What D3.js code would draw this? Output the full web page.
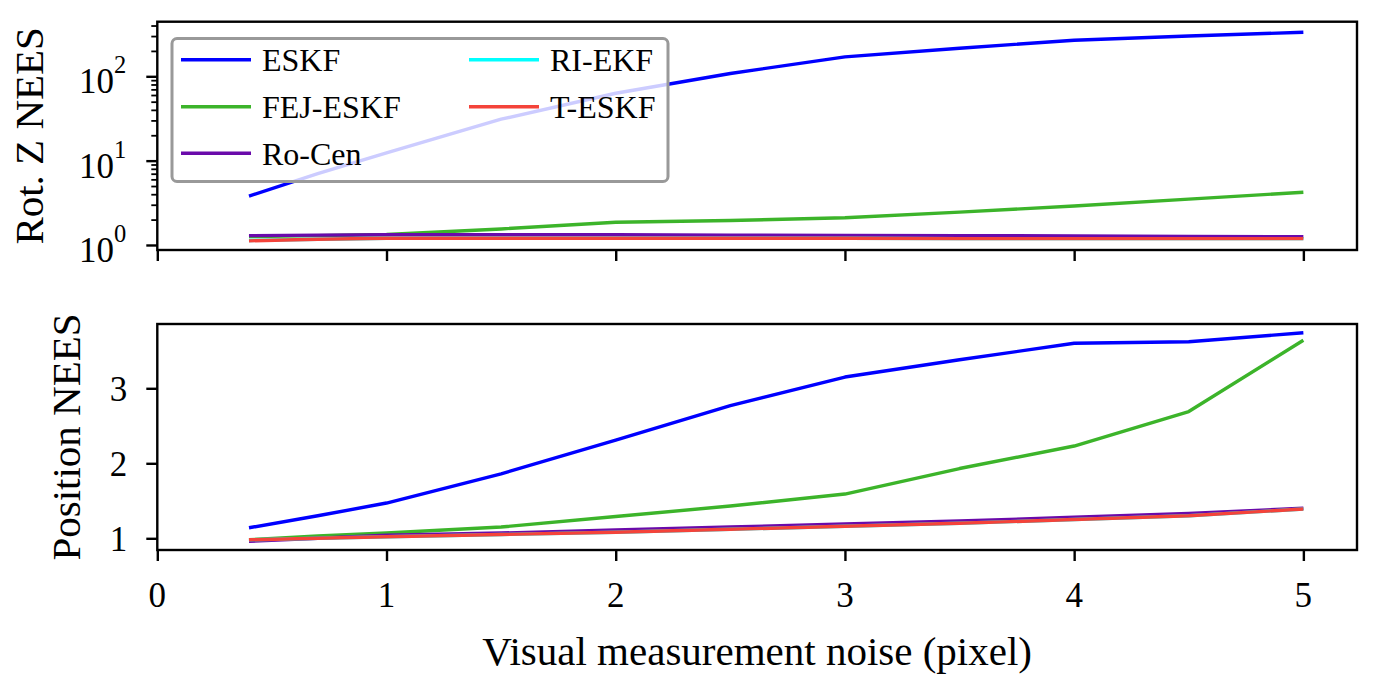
<!DOCTYPE html>
<html>
<head>
<meta charset="utf-8">
<script src="https://cdn.jsdelivr.net/npm/d3@7"></script>
<style>
  html, body { margin: 0; padding: 0; background: #fff; }
  svg { display: block; }
  text { font-family: "Liberation Serif", "Times New Roman", serif; fill: #000; }
</style>
</head>
<body>
<script>
// ---------- data ----------
const noise = [0.4, 0.7, 1.0, 1.5, 2.0, 2.5, 3.0, 3.5, 4.0, 4.5, 5.0];
const seriesNames = ["ESKF", "FEJ-ESKF", "Ro-Cen", "RI-EKF", "T-ESKF"];
const seriesColors = ["#0000ff", "#3cb42a", "#6a0aaa", "#00ffff", "#f4433a"];

// Rot. Z NEES (log scale)
const rotEskf  = [3.8, 7.0, 12.4, 31, 63, 108, 170, 215, 268, 300, 333];
const rotFej   = [1.26, 1.29, 1.33, 1.55, 1.86, 1.95, 2.1, 2.45, 2.9, 3.5, 4.22];
const rotRoCen = [1.29, 1.31, 1.32, 1.32, 1.32, 1.31, 1.30, 1.29, 1.28, 1.26, 1.25];
const rotRiEkf = [1.13, 1.17, 1.20, 1.20, 1.20, 1.20, 1.20, 1.19, 1.19, 1.19, 1.19];
const rotTEskf = [1.12, 1.17, 1.20, 1.20, 1.20, 1.20, 1.20, 1.19, 1.19, 1.19, 1.19];

// Position NEES
const posEskf  = [1.14, 1.30, 1.47, 1.86, 2.31, 2.77, 3.15, 3.38, 3.60, 3.62, 3.74];
const posFej   = [0.98, 1.03, 1.07, 1.15, 1.29, 1.43, 1.59, 1.93, 2.23, 2.69, 3.64];
const posRoCen = [0.96, 1.00, 1.04, 1.07, 1.11, 1.15, 1.19, 1.23, 1.28, 1.33, 1.40];
const posRiEkf = [0.98, 1.00, 1.02, 1.05, 1.08, 1.12, 1.16, 1.20, 1.25, 1.30, 1.39];
const posTEskf = [0.98, 1.00, 1.02, 1.05, 1.08, 1.12, 1.16, 1.20, 1.25, 1.30, 1.39];

const xTicks = [0, 1, 2, 3, 4, 5];
const rotMajorTicks = [1, 10, 100];
const rotExponents = ["0", "1", "2"];
const posTicks = [1, 2, 3];

const rotSeries = [rotEskf, rotFej, rotRoCen, rotRiEkf, rotTEskf];
const posSeries = [posEskf, posFej, posRoCen, posRiEkf, posTEskf];

// ---------- layout ----------
const W = 1381, H = 687;
const L = 157.3, R = 1357;
const top1 = 21.7, bot1 = 250;
const top2 = 324, bot2 = 550;
const tickFont = 35, labelFont = 41, legendFont = 32;
const lineW = 3.4, spineW = 2.4;

const svg = d3.select("body").append("svg").attr("width", W).attr("height", H);

const x = d3.scaleLinear().domain([0, 5.234]).range([L, R]);
const yRot = d3.scaleLog().domain([0.872, 444]).range([bot1, top1]);
const yPos = d3.scaleLinear().domain([0.844, 3.857]).range([bot2, top2]);

function drawLines(g, yScale, series) {
  const line = d3.line().x((d, i) => x(noise[i])).y(d => yScale(d));
  series.forEach((vals, k) => {
    g.append("path")
      .attr("d", line(vals))
      .attr("fill", "none")
      .attr("stroke", seriesColors[k])
      .attr("stroke-width", lineW)
      .attr("stroke-linejoin", "round")
      .attr("stroke-linecap", "butt");
  });
}

function frame(top, bot) {
  svg.append("rect")
    .attr("x", L).attr("y", top).attr("width", R - L).attr("height", bot - top)
    .attr("fill", "none").attr("stroke", "#000").attr("stroke-width", spineW);
}

function styleAxis(g) {
  g.select(".domain").remove();
  g.selectAll(".tick line").attr("stroke", "#000").attr("stroke-width", spineW);
}

// ---------- top panel ----------
const g1 = svg.append("g");
drawLines(g1, yRot, rotSeries);

// x ticks (no labels) for top
const ax1 = svg.append("g").attr("transform", `translate(0,${bot1})`)
  .call(d3.axisBottom(x).tickValues(xTicks).tickSize(11).tickFormat(""));
styleAxis(ax1);

// log y minor ticks
const minor = [];
[1, 10, 100].forEach(b => { for (let m = 2; m <= 9; m++) { const v = b * m; if (v >= yRot.domain()[0] && v <= yRot.domain()[1]) minor.push(v); } });
const ayMinor = svg.append("g").attr("transform", `translate(${L},0)`)
  .call(d3.axisLeft(yRot).tickValues(minor).tickSize(6).tickFormat(""));
styleAxis(ayMinor);
ayMinor.selectAll(".tick line").attr("stroke-width", 1.8);
const ayMajor = svg.append("g").attr("transform", `translate(${L},0)`)
  .call(d3.axisLeft(yRot).tickValues(rotMajorTicks).tickSize(11).tickFormat(""));
styleAxis(ayMajor);
rotMajorTicks.forEach((v, i) => {
  const t = svg.append("text")
    .attr("x", L - 31).attr("y", yRot(v) + 17)
    .attr("text-anchor", "end")
    .style("font-size", tickFont + "px");
  t.append("tspan").text("10");
  t.append("tspan").attr("dy", -20).style("font-size", "24.5px").text(rotExponents[i]);
});

frame(top1, bot1);

// y label top
svg.append("text")
  .attr("transform", `translate(43,${(top1 + bot1) / 2}) rotate(-90)`)
  .attr("text-anchor", "middle")
  .style("font-size", labelFont + "px")
  .text("Rot. Z NEES");

// legend
const leg = svg.append("g");
leg.append("rect")
  .attr("x", 172).attr("y", 38.5).attr("width", 496).attr("height", 143)
  .attr("rx", 5).attr("ry", 5)
  .attr("fill", "#fff").attr("fill-opacity", 0.8)
  .attr("stroke", "#999").attr("stroke-width", 3);
const legCols = [[0, 1, 2], [3, 4]];
const colX = [181, 469];
const rowY = [59.7, 106.7, 153.3];
legCols.forEach((col, ci) => {
  col.forEach((k, ri) => {
    leg.append("line")
      .attr("x1", colX[ci]).attr("x2", colX[ci] + 70)
      .attr("y1", rowY[ri]).attr("y2", rowY[ri])
      .attr("stroke", seriesColors[k]).attr("stroke-width", lineW);
    leg.append("text")
      .attr("x", colX[ci] + 81).attr("y", rowY[ri] + 11.5)
      .style("font-size", legendFont + "px")
      .text(seriesNames[k]);
  });
});

// ---------- bottom panel ----------
const g2 = svg.append("g");
drawLines(g2, yPos, posSeries);

const ax2 = svg.append("g").attr("transform", `translate(0,${bot2})`)
  .call(d3.axisBottom(x).tickValues(xTicks).tickSize(11).tickFormat(""));
styleAxis(ax2);
xTicks.forEach(v => {
  svg.append("text")
    .attr("x", x(v)).attr("y", 607)
    .attr("text-anchor", "middle")
    .style("font-size", tickFont + "px")
    .text(d3.format("d")(v));
});

const ay2 = svg.append("g").attr("transform", `translate(${L},0)`)
  .call(d3.axisLeft(yPos).tickValues(posTicks).tickSize(11).tickFormat(""));
styleAxis(ay2);
posTicks.forEach(v => {
  svg.append("text")
    .attr("x", L - 30).attr("y", yPos(v) + 12.5)
    .attr("text-anchor", "end")
    .style("font-size", tickFont + "px")
    .text(v);
});

frame(top2, bot2);

svg.append("text")
  .attr("transform", `translate(80,${(top2 + bot2) / 2}) rotate(-90)`)
  .attr("text-anchor", "middle")
  .style("font-size", labelFont + "px")
  .text("Position NEES");

svg.append("text")
  .attr("x", (L + R) / 2).attr("y", 665)
  .attr("text-anchor", "middle")
  .style("font-size", labelFont + "px")
  .text("Visual measurement noise (pixel)");
</script>
</body>
</html>
